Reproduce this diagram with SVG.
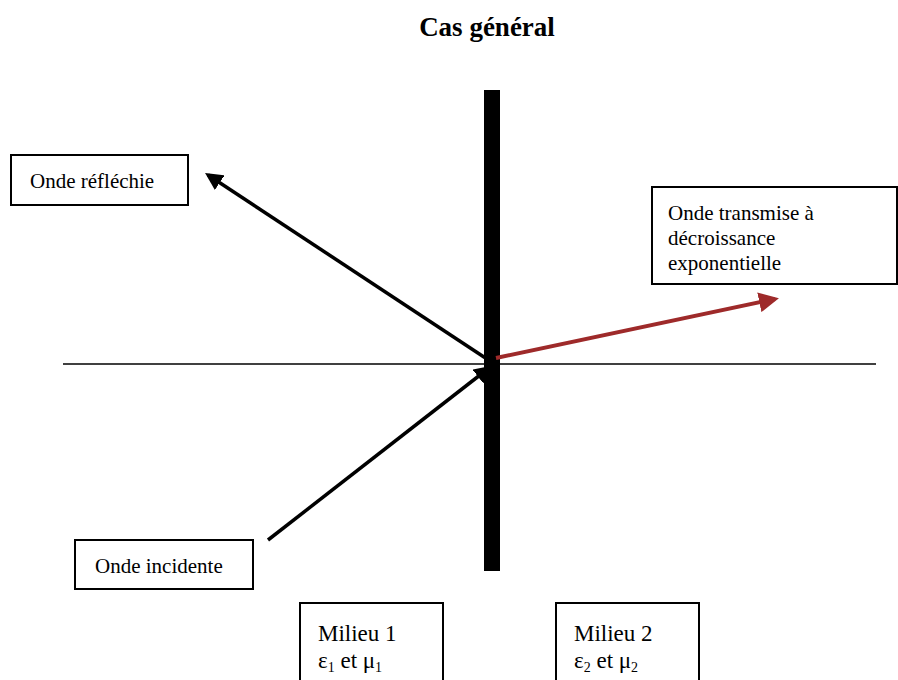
<svg xmlns="http://www.w3.org/2000/svg" width="898" height="680" viewBox="0 0 898 680">
<style>
text{font-family:"Liberation Serif","Times New Roman",serif;fill:#000}
.lbl{font-size:21px}
.mil{font-size:23px}
.box{fill:#fff;stroke:#000;stroke-width:2}
.sub{font-size:14px}
</style>
<defs>
<marker id="ah" markerWidth="5" markerHeight="5" refX="4" refY="2.5" orient="auto" markerUnits="strokeWidth"><path d="M0,0 L5,2.5 L0,5 z" fill="#000"/></marker>
<marker id="ahr" markerWidth="5" markerHeight="5" refX="4" refY="2.5" orient="auto" markerUnits="strokeWidth"><path d="M0,0 L5,2.5 L0,5 z" fill="#9e2a2a"/></marker>
</defs>
<rect width="898" height="680" fill="#fff"/>
<text x="487" y="36" text-anchor="middle" font-size="27" font-weight="bold">Cas général</text>
<g id="axis">
<line x1="63" y1="364" x2="876" y2="364" stroke="#000" stroke-width="1.3"/>
<rect x="484" y="90" width="16" height="481" fill="#000"/>
</g>
<g id="connectors">
<line x1="490" y1="361" x2="208" y2="175" stroke="#000" stroke-width="3.5" marker-end="url(#ah)"/>
<line x1="268" y1="540" x2="489" y2="368" stroke="#000" stroke-width="3.5" marker-end="url(#ah)"/>
<line x1="496" y1="358" x2="775" y2="299" stroke="#9e2a2a" stroke-width="4" marker-end="url(#ahr)"/>
</g>
<g id="reflechie">
<rect class="box" x="11" y="155" width="177" height="50"/>
<text class="lbl" x="30" y="188">Onde réfléchie</text>
</g>
<g id="transmise">
<rect class="box" x="652" y="187" width="245" height="97"/>
<text class="lbl" x="668" y="220">Onde transmise à</text>
<text class="lbl" x="668" y="245">décroissance</text>
<text class="lbl" x="668" y="270">exponentielle</text>
</g>
<g id="incidente">
<rect class="box" x="75" y="540" width="178" height="49"/>
<text class="lbl" x="95" y="573">Onde incidente</text>
</g>
<g id="milieu1">
<rect class="box" x="300" y="603" width="143" height="90"/>
<text class="mil" x="318" y="641">Milieu 1</text>
<text class="mil" x="318" y="668">ε<tspan class="sub" dy="4">1</tspan><tspan dy="-4"> et μ</tspan><tspan class="sub" dy="4">1</tspan></text>
</g>
<g id="milieu2">
<rect class="box" x="556" y="603" width="143" height="90"/>
<text class="mil" x="574" y="641">Milieu 2</text>
<text class="mil" x="574" y="668">ε<tspan class="sub" dy="4">2</tspan><tspan dy="-4"> et μ</tspan><tspan class="sub" dy="4">2</tspan></text>
</g>
</svg>
